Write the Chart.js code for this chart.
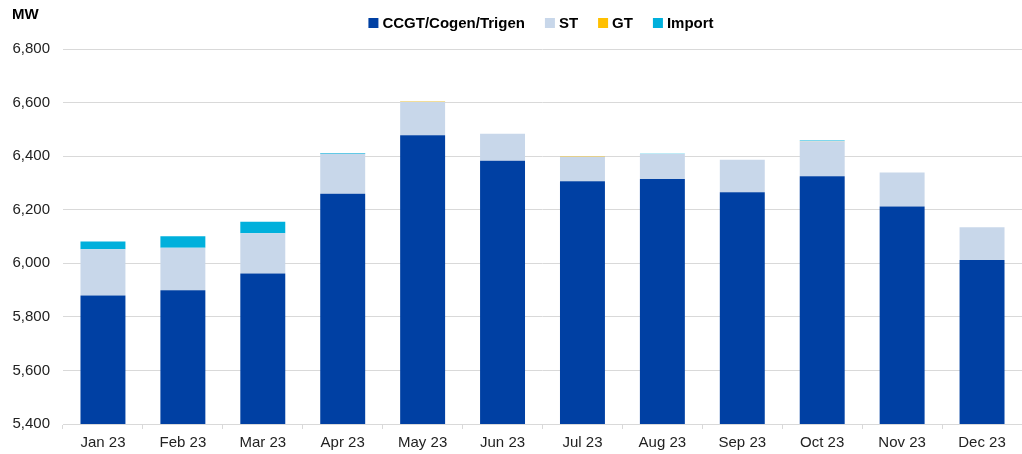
<!DOCTYPE html>
<html>
<head>
<meta charset="utf-8">
<script src="https://cdn.jsdelivr.net/npm/chart.js@4.4.1/dist/chart.umd.min.js"></script>
<style>
html,body{margin:0;padding:0;background:#fff;}
#wrap{position:relative;width:1022px;height:454px;}
</style>
</head>
<body>
<div id="wrap"><canvas id="c" width="1022" height="454"></canvas></div>
<script>
const categories = ['Jan 23','Feb 23','Mar 23','Apr 23','May 23','Jun 23','Jul 23','Aug 23','Sep 23','Oct 23','Nov 23','Dec 23'];
const ccgt   = [5880, 5899, 5962, 6260, 6478, 6383, 6306, 6315, 6265, 6325, 6212, 6012];
const st     = [172, 159, 150, 149, 125, 101, 92, 93, 122, 131, 127, 123];
const gt     = [0, 0, 0, 0, 2, 0, 2, 0, 0, 1, 0, 0];
const imp    = [29, 43, 43, 3, 0, 0, 0, 1, 0, 1, 0, 0];
const yTicks = [5400, 5600, 5800, 6000, 6200, 6400, 6600, 6800];
const unitLabel = 'MW';

const FONT = '"Liberation Sans", Arial, sans-serif';

const legendPlugin = {
  id: 'customLegend',
  afterDraw(chart) {
    const ctx = chart.ctx;
    ctx.save();
    ctx.font = 'bold 15px ' + FONT;
    ctx.textBaseline = 'middle';
    ctx.fillStyle = '#000';
    ctx.textAlign = 'left';
    ctx.fillText(unitLabel, 12, 15);
    const box = 10, gapBox = 4, gapItem = 20;
    const items = chart.data.datasets.map(d => ({label: d.label, color: d.backgroundColor, w: ctx.measureText(d.label).width}));
    let total = 0;
    items.forEach((it, i) => { total += box + gapBox + it.w + (i < items.length - 1 ? gapItem : 0); });
    let x = 541 - total / 2;
    const y = 23;
    items.forEach(it => {
      ctx.fillStyle = it.color;
      ctx.fillRect(x, y - box / 2, box, box);
      x += box + gapBox;
      ctx.fillStyle = '#000';
      ctx.fillText(it.label, x, y + 1);
      x += it.w + gapItem;
    });
    ctx.restore();
  }
};

new Chart(document.getElementById('c'), {
  type: 'bar',
  data: {
    labels: categories,
    datasets: [
      {label: 'CCGT/Cogen/Trigen', data: ccgt, backgroundColor: '#0040A3'},
      {label: 'ST', data: st, backgroundColor: '#C8D7EA'},
      {label: 'GT', data: gt, backgroundColor: '#FFC000'},
      {label: 'Import', data: imp, backgroundColor: '#00B0DC'}
    ]
  },
  options: {
    responsive: false,
    animation: false,
    devicePixelRatio: 1,
    layout: {padding: {top: 49, right: 0, bottom: -3, left: 0}},
    datasets: {bar: {categoryPercentage: 1.0, barPercentage: 0.5625, borderWidth: 0}},
    plugins: {legend: {display: false}, tooltip: {enabled: false}},
    scales: {
      x: {
        stacked: true,
        grid: {drawOnChartArea: false, drawTicks: true, tickLength: 5, color: '#D9D9D9', offset: true},
        border: {display: true, color: '#D9D9D9', width: 1},
        ticks: {color: '#222', font: {family: FONT, size: 15}, padding: 5, maxRotation: 0, autoSkip: false}
      },
      y: {
        stacked: true,
        min: yTicks[0],
        max: yTicks[yTicks.length - 1],
        afterBuildTicks: (s) => { s.ticks = yTicks.map(v => ({value: v})); },
        afterFit: (s) => { s.width = 63; },
        grid: {drawTicks: false, color: '#D9D9D9', lineWidth: 1},
        border: {display: false},
        ticks: {color: '#222', font: {family: FONT, size: 15}, padding: 13,
          callback: (v) => Number(v).toLocaleString('en-US')}
      }
    }
  },
  plugins: [legendPlugin]
});
</script>
</body>
</html>
